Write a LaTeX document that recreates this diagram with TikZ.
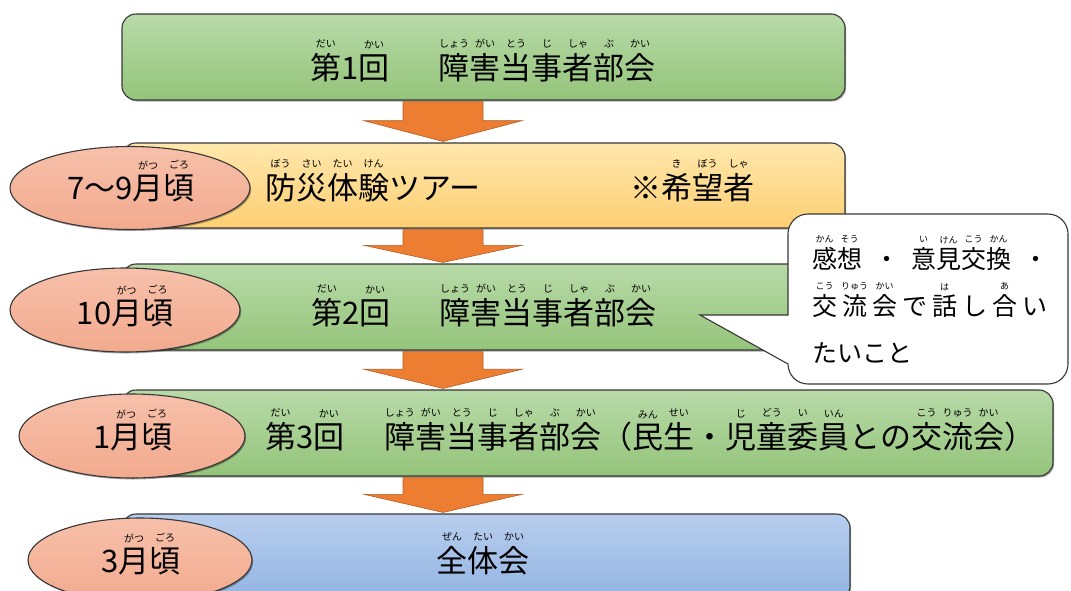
\documentclass[tikz,border=0pt]{standalone}
\usepackage{fontspec}
\setmainfont{Noto Sans CJK JP}
\usetikzlibrary{calc,shapes.geometric,shadows}

\newlength{\rubygap}\setlength{\rubygap}{5pt}
\newcommand{\rubysize}{\fontsize{10}{10}\selectfont}
\newcommand{\rby}[2]{\leavevmode\setbox0\hbox{#1}\vbox{\offinterlineskip\hbox to\wd0{\hss\rubysize #2\hss}\vskip\rubygap\box0}}

\definecolor{gtop}{RGB}{184,218,168}
\definecolor{gbot}{RGB}{148,196,122}
\definecolor{otop}{RGB}{255,231,172}
\definecolor{obot}{RGB}{253,207,115}
\definecolor{btop}{RGB}{184,206,238}
\definecolor{bbot}{RGB}{146,180,226}
\definecolor{etop}{RGB}{247,192,170}
\definecolor{ebot}{RGB}{242,170,142}
\definecolor{arr}{RGB}{237,125,49}
\definecolor{edge}{RGB}{55,55,55}

\tikzset{
  boxbase/.style={draw=edge, line width=1.1pt, rounded corners=14pt, inner sep=0pt,
    drop shadow={shadow xshift=1.2pt, shadow yshift=-1.5pt, fill=black, opacity=0.35}},
  gbox/.style={boxbase, top color=gtop, bottom color=gbot},
  obox/.style={boxbase, top color=otop, bottom color=obot},
  bbox/.style={boxbase, top color=btop, bottom color=bbot},
  oval/.style={ellipse, draw=edge, line width=1.1pt, top color=etop, bottom color=ebot, inner sep=0pt,
    drop shadow={shadow xshift=1.2pt, shadow yshift=-1.5pt, fill=black, opacity=0.35}},
  maintext/.style={inner sep=0pt, anchor=base, font=\fontsize{31}{31}\selectfont},
  bigarrow/.style={fill=arr, draw=arr!75!black, line width=0.6pt, line join=miter},
  callout/.style={fill=white, draw=edge, line width=1.1pt},
  calltext/.style={inner sep=0pt, anchor=base west,
    font=\fontsize{25}{25}\selectfont\def\rubysize{\fontsize{9}{9}\selectfont}\setlength{\rubygap}{4pt}},
}

\newcommand{\blockarrow}[2]{%
  \path ($(#1.south -| ax)+(0,1)$) coordinate (ta)
        ($(#2.north -| ax)+(0,-1)$) coordinate (tb)
        ($(ta)!0.48!(tb)$) coordinate (tm);
  \draw[bigarrow] ($(ta)+(-40,0)$) -- ($(ta)+(40,0)$) -- ($(tm)+(40,0)$) -- ($(tm)+(79,0)$)
     -- (tb) -- ($(tm)+(-79,0)$) -- ($(tm)+(-40,0)$) -- cycle;}

\begin{document}
\begin{tikzpicture}[x=1pt,y=-1pt]
\useasboundingbox (0,0) rectangle (1071,590);
\clip (0,0) rectangle (1071,590);
\coordinate (ax) at (443,0);

% boxes
\node[gbox, minimum width=723pt, minimum height=86pt] (b1) at (483.5,57) {};
\node[obox, minimum width=723pt, minimum height=85pt] (b2) at (483.5,185.5) {};
\node[oval, minimum width=240pt, minimum height=83pt] (e1) at (130,188) {};
\node[gbox, minimum width=723pt, minimum height=86pt] (b3) at (483.5,307) {};
\node[oval, minimum width=230pt, minimum height=84pt] (e2) at (125,310) {};

% callout
\coordinate (tip) at (700,315);
\draw[callout] (tip) -- (788,315) -- (788,234) arc[start angle=180,end angle=90,radius=20pt]
  -- (1048,214) arc[start angle=90,end angle=0,radius=20pt]
  -- (1068,364) arc[start angle=0,end angle=-90,radius=20pt]
  -- (808,384) arc[start angle=270,end angle=180,radius=20pt] -- cycle;

\node[gbox, minimum width=931pt, minimum height=86pt] (b4) at (587.5,433) {};
\node[oval, minimum width=226pt, minimum height=84pt] (e3) at (132,436) {};
\node[bbox, minimum width=728pt, minimum height=86pt] (b5) at (486,557) {};
\node[oval, minimum width=224pt, minimum height=84pt] (e4) at (140,560) {};

% arrows
\blockarrow{b1}{b2}
\blockarrow{b2}{b3}
\blockarrow{b3}{b4}
\blockarrow{b4}{b5}

% texts
\node[maintext] (t1) at (483,79) {\rby{第}{だい}1\rby{回}{かい}\hspace{49pt}\rby{障}{しょう}\rby{害}{がい}\rby{当}{とう}\rby{事}{じ}\rby{者}{しゃ}\rby{部}{ぶ}\rby{会}{かい}};

\node[maintext] (m2) at (131,199) {7～9\rby{月}{がつ}\rby{頃}{ごろ}};
\node[maintext, anchor=base west] (d2) at (265,199) {\rby{防}{ぼう}\rby{災}{さい}\rby{体}{たい}\rby{験}{けん}ツアー};
\node[maintext] (k2) at (692,199) {※\rby{希}{き}\rby{望}{ぼう}\rby{者}{しゃ}};

\node[maintext] (m3) at (125,324) {10\rby{月}{がつ}\rby{頃}{ごろ}};
\node[maintext] (t3) at (484,324) {\rby{第}{だい}2\rby{回}{かい}\hspace{49pt}\rby{障}{しょう}\rby{害}{がい}\rby{当}{とう}\rby{事}{じ}\rby{者}{しゃ}\rby{部}{ぶ}\rby{会}{かい}};

\node[maintext] (m4) at (133,448) {1\rby{月}{がつ}\rby{頃}{ごろ}};
\node[maintext, anchor=base west] (t4) at (265,448) {\rby{第}{だい}3\rby{回}{かい}\hspace{40pt}\rby{障}{しょう}\rby{害}{がい}\rby{当}{とう}\rby{事}{じ}\rby{者}{しゃ}\rby{部}{ぶ}\rby{会}{かい}（\rby{民}{みん}\rby{生}{せい}・\rby{児}{じ}\rby{童}{どう}\rby{委}{い}\rby{員}{いん}との\rby{交}{こう}\rby{流}{りゅう}\rby{会}{かい}）};

\node[maintext] (m5) at (141,572) {3\rby{月}{がつ}\rby{頃}{ごろ}};
\node[maintext] (t5) at (483,572) {\rby{全}{ぜん}\rby{体}{たい}\rby{会}{かい}};

% callout text
\node[calltext] (c1) at (812,268) {\rby{感}{かん}\rby{想}{そう}\kern12pt・\kern12pt\rby{意}{い}\rby{見}{けん}\rby{交}{こう}\rby{換}{かん}\kern12pt・};
\node[calltext] (c2) at (812,315) {\rby{交}{こう}\kern5pt\rby{流}{りゅう}\kern5pt\rby{会}{かい}\kern5pt で\kern5pt\rby{話}{は}\kern5pt し\kern5pt\rby{合}{あ}\kern5pt い};
\node[calltext] (c3) at (812,362) {たいこと};
\end{tikzpicture}
\end{document}
